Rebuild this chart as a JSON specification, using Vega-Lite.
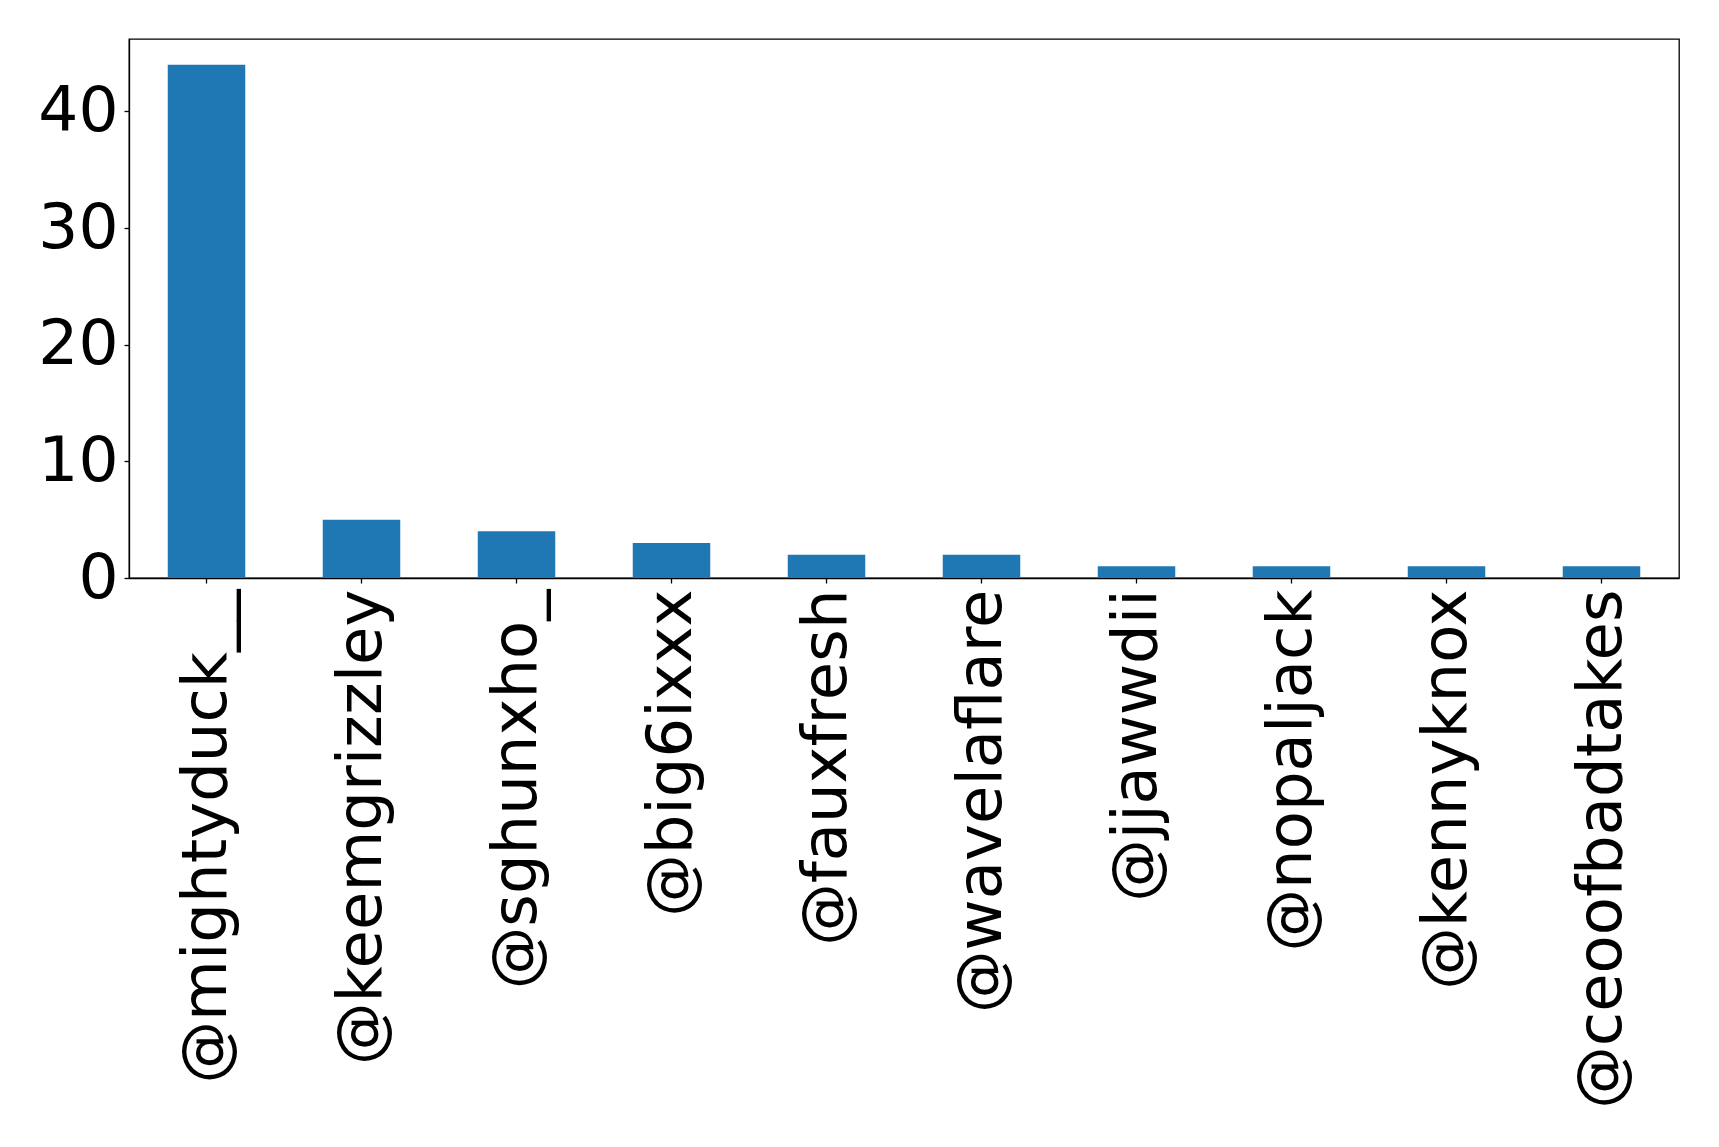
{
  "$schema": "https://vega.github.io/schema/vega-lite/v6.json",
  "autosize": "none",
  "width": 1550,
  "height": 539,
  "padding": {"left": 129, "top": 39, "right": 40, "bottom": 530},
  "background": "white",
  "data": {
    "values": [
      {"user": "@mightyduck__", "count": 44},
      {"user": "@keemgrizzley", "count": 5},
      {"user": "@sghunxho_", "count": 4},
      {"user": "@big6ixxx", "count": 3},
      {"user": "@fauxfresh", "count": 2},
      {"user": "@wavelaflare", "count": 2},
      {"user": "@jjawwdii", "count": 1},
      {"user": "@nopaljack", "count": 1},
      {"user": "@kennyknox", "count": 1},
      {"user": "@ceoofbadtakes", "count": 1}
    ]
  },
  "mark": {"type": "bar", "color": "#1f77b4"},
  "encoding": {
    "x": {
      "field": "user",
      "type": "nominal",
      "sort": null,
      "scale": {"paddingInner": 0.5, "paddingOuter": 0.25},
      "axis": {
        "title": null,
        "labelAngle": -90,
        "labelFont": "DejaVu Sans",
        "labelFontSize": 62.5,
        "labelColor": "black",
        "labelPadding": 6,
        "tickSize": 5,
        "tickColor": "black",
        "domainColor": "black",
        "labelLimit": 0
      }
    },
    "y": {
      "field": "count",
      "type": "quantitative",
      "scale": {"domain": [0, 46.2], "nice": false, "zero": true},
      "axis": {
        "title": null,
        "values": [0, 10, 20, 30, 40],
        "grid": false,
        "labelFont": "DejaVu Sans",
        "labelFontSize": 63,
        "labelColor": "black",
        "labelPadding": 6,
        "tickSize": 5,
        "tickColor": "black",
        "domainColor": "black",
        "labelFlush": false,
        "labelOverlap": false
      }
    }
  },
  "config": {
    "view": {"stroke": "black", "strokeWidth": 1.3},
    "axis": {"domainWidth": 1.3, "tickWidth": 1.3}
  }
}
